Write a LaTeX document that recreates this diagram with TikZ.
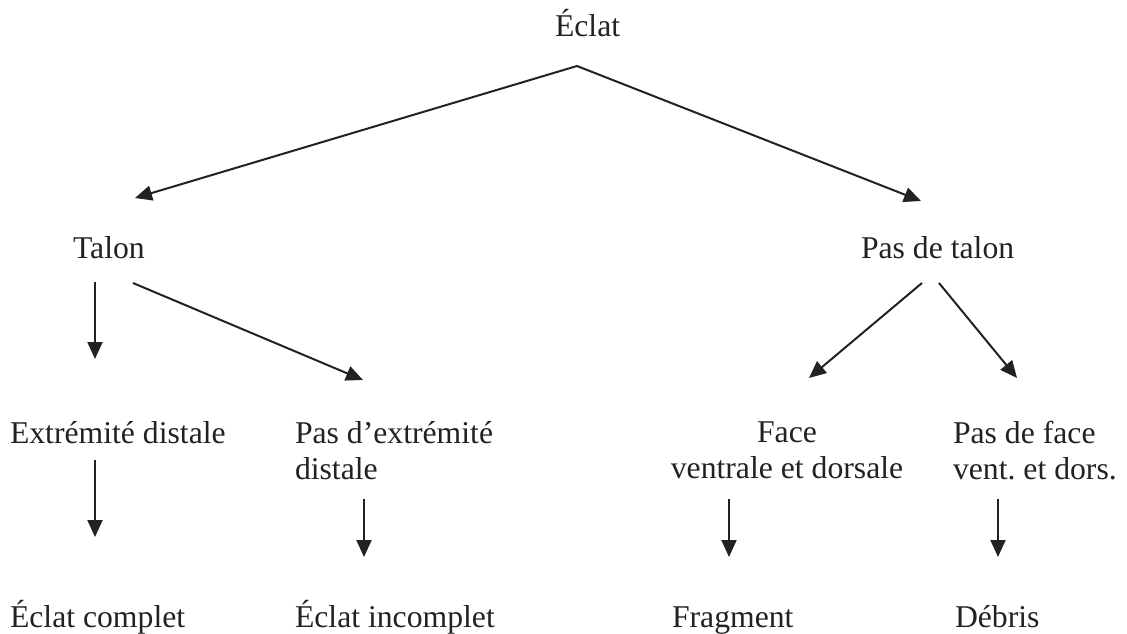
\documentclass[tikz,border=0pt]{standalone}
\usepackage{fontspec}
\setmainfont{Liberation Serif}
\usetikzlibrary{arrows.meta}
\definecolor{ink}{HTML}{222222}
\begin{document}
\frenchspacing
\begin{tikzpicture}[x=1pt,y=-1pt,
  lbl/.style={inner sep=0pt,outer sep=0pt,anchor=base west,text=ink,
              font=\fontsize{31.7}{36}\selectfont},
  lblc/.style={lbl,anchor=base,align=center},
  lbll/.style={lbl,align=left},
  arr/.style={draw=ink,line width=2pt,
              -{Triangle[length=17pt,width=15pt]}}]
\useasboundingbox (0,0) rectangle (1127,633);

% labels (multi-line nodes are placed by the baseline of their last line)
\node[lbl]  (eclat)  at (555,36)  {Éclat};
\node[lbl]  (talon)  at (73,258)  {Talon};
\node[lbl]  (pastal) at (861,258) {Pas de talon};
\node[lbl]  (extr)   at (10,443)  {Extrémité distale};
\node[lbll] (pasext) at (295,479) {Pas d’extrémité\\distale};
\node[lblc] (face)   at (787,478) {Face\\ventrale et dorsale};
\node[lbll] (pasface) at (953,479) {Pas de face\\vent. et dors.};
\node[lbl]  (complet) at (10,627)  {Éclat complet};
\node[lbl]  (incompl) at (295,627) {Éclat incomplet};
\node[lbl]  (frag)    at (672,627) {Fragment};
\node[lbl]  (debris)  at (955,627) {Débris};

% arrow end points
\coordinate (apex) at (577,66);
\coordinate (tL)   at (135,198);
\coordinate (tR)   at (921,201);
\coordinate (ta1)  at (95,282);
\coordinate (ta1e) at (95,359);
\coordinate (ta2)  at (133,283);
\coordinate (ta2e) at (363,380);
\coordinate (pt1)  at (922,283);
\coordinate (pt1e) at (809,378);
\coordinate (pt2)  at (939,283);
\coordinate (pt2e) at (1017,378);
\coordinate (ex)   at (95,460);
\coordinate (exe)  at (95,537);
\coordinate (pe)   at (364,499);
\coordinate (pee)  at (364,557);
\coordinate (fa)   at (729,499);
\coordinate (fae)  at (729,557);
\coordinate (pf)   at (998,499);
\coordinate (pfe)  at (998,557);

% connectors
\draw[arr] (apex) -- (tL);
\draw[arr] (apex) -- (tR);
\draw[arr] (ta1) -- (ta1e);
\draw[arr] (ta2) -- (ta2e);
\draw[arr] (pt1) -- (pt1e);
\draw[arr] (pt2) -- (pt2e);
\draw[arr] (ex) -- (exe);
\draw[arr] (pe) -- (pee);
\draw[arr] (fa) -- (fae);
\draw[arr] (pf) -- (pfe);
\end{tikzpicture}
\end{document}
